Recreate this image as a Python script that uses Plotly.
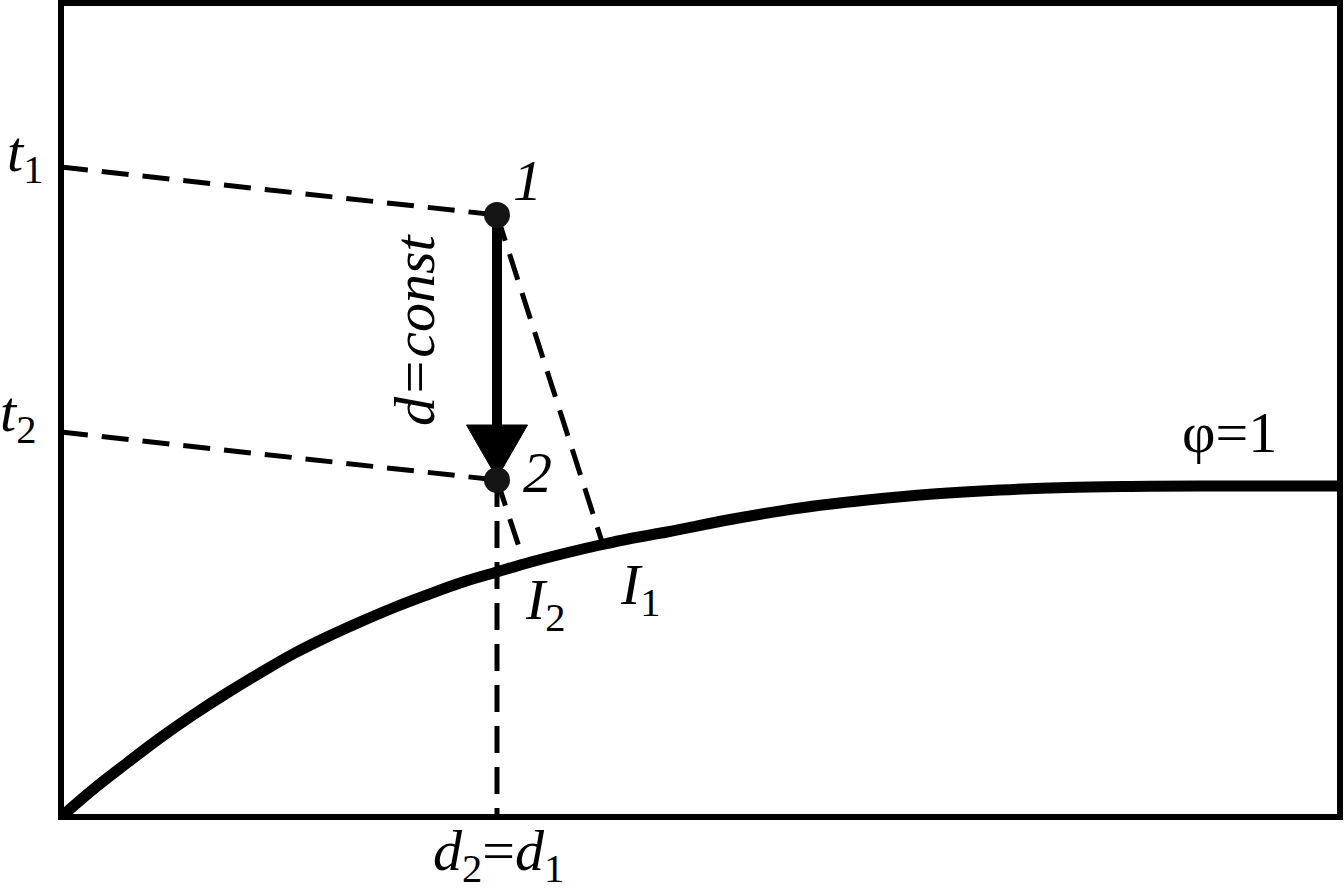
import plotly.graph_objects as go

# φ=1 saturation curve (d, I) in chart units
curve_d = [0, 3.2, 6.6, 9.9, 13.2, 16.6, 19.9, 23.2, 26.6, 29.9, 33.2, 36.6, 39.9, 43.6,
           47.0, 50.5, 53.9, 57.2, 60.6, 67.2, 73.9, 80.6, 87.2, 93.9, 100.6, 107.0, 113.9, 127.9]
curve_I = [0, 2.75, 5.4, 7.9, 10.2, 12.4, 14.4, 16.3, 18.0, 19.5, 20.9, 22.2, 23.4, 24.5,
           25.5, 26.4, 27.2, 27.9, 28.5, 29.8, 30.9, 31.7, 32.3, 32.7, 32.95, 33.05, 33.1, 33.1]

# state points
pt_names = ["1", "2"]
pt_d = [43.6, 43.6]
pt_y = [60.2, 33.7]
# temperature axis marks
t_levels = [65.0, 38.5]
# enthalpy line end points on the curve (I1, I2)
I_end_d = [54.2, 46.1]
I_end_y = [27.2, 26.1]

X_MAX, Y_MAX = 127.9, 81.4
FONT = "Liberation Serif, Times New Roman, serif"
DASH = "27px,14px"

fig = go.Figure()

# saturation curve
fig.add_trace(go.Scatter(x=curve_d, y=curve_I, mode="lines",
                         line=dict(color="black", width=11, shape="spline", smoothing=1.0),
                         hoverinfo="skip"))

# dashed isotherms from axis to points
for t, d, y in zip(t_levels, pt_d, pt_y):
    fig.add_trace(go.Scatter(x=[0, d], y=[t, y], mode="lines",
                             line=dict(color="black", width=5, dash=DASH),
                             hoverinfo="skip"))
# dashed enthalpy lines from points to curve
for d, y, ed, ey in zip(pt_d, pt_y, I_end_d, I_end_y):
    fig.add_trace(go.Scatter(x=[d, ed], y=[y, ey], mode="lines",
                             line=dict(color="black", width=5, dash=DASH),
                             hoverinfo="skip"))
# vertical dashed line d2 = d1 down to axis
fig.add_trace(go.Scatter(x=[pt_d[1], pt_d[1]], y=[pt_y[1], 0], mode="lines",
                         line=dict(color="black", width=5, dash=DASH),
                         hoverinfo="skip"))

# arrow d = const: shaft + head
HEAD_LEN, HEAD_HALF = 5.3, 3.05
tip_y = pt_y[1] + 0.2
base_y = tip_y + HEAD_LEN
fig.add_trace(go.Scatter(x=[pt_d[0], pt_d[0]], y=[pt_y[0], base_y], mode="lines",
                         line=dict(color="black", width=10), hoverinfo="skip"))
fig.add_trace(go.Scatter(x=[pt_d[1] - HEAD_HALF, pt_d[1] + HEAD_HALF, pt_d[1], pt_d[1] - HEAD_HALF],
                         y=[base_y, base_y, tip_y, base_y], mode="lines", fill="toself",
                         fillcolor="black", line=dict(color="black", width=1),
                         hoverinfo="skip"))

# state points
fig.add_trace(go.Scatter(x=pt_d, y=pt_y, mode="markers",
                         marker=dict(size=26, color="#151515"), hoverinfo="skip"))

fs = 58
def ann(x, y, text, size=fs, angle=0):
    # positions given in data units, converted to paper fractions so labels outside the axes show
    fig.add_annotation(x=x / X_MAX, y=y / Y_MAX, xref="paper", yref="paper", text=text,
                       showarrow=False, font=dict(family=FONT, size=size, color="black"),
                       xanchor="center", yanchor="middle", textangle=angle)

ann(-3.6, 66.2, "<i>t</i><sub>1</sub>")
ann(-4.3, 40.2, "<i>t</i><sub>2</sub>")
ann(46.6, 63.7, "<i>" + pt_names[0] + "</i>")
ann(47.6, 34.5, "<i>" + pt_names[1] + "</i>")
ann(35.4, 48.7, "<i>d=const</i>", angle=-90)
ann(48.4, 21.4, "<i>I</i><sub>2</sub>")
ann(57.9, 22.9, "<i>I</i><sub>1</sub>")
ann(43.7, -3.8, "<i>d</i><sub>2</sub>=<i>d</i><sub>1</sub>")
ann(116.8, 38.5, "φ=1")

# frame
fig.add_shape(type="rect", xref="paper", yref="paper", x0=0, y0=0, x1=1, y1=1,
              line=dict(color="black", width=6), layer="above")

fig.update_layout(
    width=1344, height=889,
    margin=dict(l=61, r=4, t=3, b=72),
    paper_bgcolor="white", plot_bgcolor="white",
    showlegend=False,
    xaxis=dict(range=[0, X_MAX], visible=False, fixedrange=True),
    yaxis=dict(range=[0, Y_MAX], visible=False, fixedrange=True),
)

fig.write_html("out.html", config={"displayModeBar": False},
               post_script="document.body.style.margin='0';document.body.style.overflow='hidden';")
